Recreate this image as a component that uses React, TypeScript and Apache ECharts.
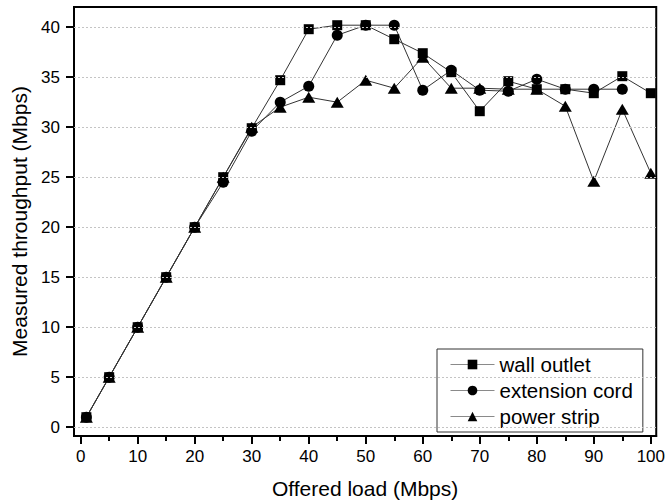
import React, { useEffect, useRef } from "react";
import * as echarts from "echarts";

const offeredLoad = [1, 5, 10, 15, 20, 25, 30, 35, 40, 45, 50, 55, 60, 65, 70, 75, 80, 85, 90, 95, 100];
const wallOutlet = [1, 5, 10, 15, 20, 25.0, 29.9, 34.7, 39.8, 40.2, 40.2, 38.8, 37.4, 35.5, 31.6, 34.6, 33.8, 33.8, 33.4, 35.1, 33.4];
const extensionCord = [1, 5, 10, 15, 20, 24.5, 29.6, 32.5, 34.1, 39.2, 40.2, 40.2, 33.7, 35.7, 33.7, 33.6, 34.8, 33.8, 33.8, 33.8, null];
const powerStrip = [1, 5, 10, 15, 20, 25.0, 30.0, 32.0, 33.0, 32.5, 34.7, 33.9, 37.0, 33.9, 33.9, 33.8, 33.8, 32.1, 24.6, 31.8, 25.4];

const xMajorTicks = [0, 10, 20, 30, 40, 50, 60, 70, 80, 90, 100];
const xMinorTicks = [5, 15, 25, 35, 45, 55, 65, 75, 85, 95];
const yTicks = [0, 5, 10, 15, 20, 25, 30, 35, 40];

const FONT = "'Liberation Sans', Arial, Helvetica, sans-serif";

function pairs(ys: (number | null)[]) {
  const out: [number, number][] = [];
  ys.forEach((y, i) => {
    if (y !== null) out.push([offeredLoad[i], y]);
  });
  return out;
}

export default function App() {
  const ref = useRef<HTMLDivElement>(null);
  useEffect(() => {
    document.body.style.margin = "0";
    const chart = echarts.init(ref.current!, null, { renderer: "svg" });
    const X_MIN = -1.17;
    const X_MAX = 100.95;
    const Y_MIN = -0.88;
    const Y_MAX = 42.02;
    const lineCommon = {
      type: "line",
      lineStyle: { color: "#333", width: 1 },
      itemStyle: { color: "#000", borderWidth: 0 },
      z: 3,
    };
    chart.setOption({
      animation: false,
      backgroundColor: "#fff",
      textStyle: { fontFamily: FONT },
      grid: {
        left: 74,
        top: 7,
        right: 8.5,
        bottom: 68,
        show: true,
        borderColor: "#000",
        borderWidth: 2,
        backgroundColor: "transparent",
      },
      legend: {
        orient: "vertical",
        left: 437,
        top: 349,
        padding: [5, 10, 5, 13],
        itemGap: 5,
        itemWidth: 44,
        itemHeight: 12,
        borderColor: "#333",
        borderWidth: 1,
        backgroundColor: "#fff",
        textStyle: { fontSize: 20.5, color: "#000", fontFamily: FONT },
        lineStyle: { color: "#8a8a8a", width: 1 },
        data: ["wall outlet", "extension cord", "power strip"],
      },
      xAxis: [
        {
          type: "value",
          min: X_MIN,
          max: X_MAX,
          name: "Offered load (Mbps)",
          nameLocation: "middle",
          nameGap: 42,
          nameTextStyle: { fontSize: 21, color: "#000", fontFamily: FONT },
          axisLine: { show: true, onZero: false, lineStyle: { color: "#000", width: 2 } },
          axisTick: { show: true, inside: false, length: 8, customValues: xMajorTicks, lineStyle: { color: "#000", width: 2 } },
          axisLabel: { customValues: xMajorTicks, fontSize: 17, color: "#000", margin: 12, fontFamily: FONT },
          splitLine: { show: false },
        },
        {
          type: "value",
          min: X_MIN,
          max: X_MAX,
          position: "bottom",
          axisLine: { show: false, onZero: false },
          axisTick: { show: true, inside: false, length: 5, customValues: xMinorTicks, lineStyle: { color: "#000", width: 2 } },
          axisLabel: { show: false },
          splitLine: { show: false },
        },
      ],
      yAxis: {
        type: "value",
        min: Y_MIN,
        max: Y_MAX,
        name: "Measured throughput (Mbps)",
        nameLocation: "middle",
        nameGap: 41,
        nameTextStyle: { fontSize: 21, color: "#000", fontFamily: FONT },
        axisLine: { show: true, onZero: false, lineStyle: { color: "#000", width: 2 } },
        axisTick: { show: true, inside: false, length: 8, customValues: yTicks, lineStyle: { color: "#000", width: 2 } },
        axisLabel: { customValues: yTicks, fontSize: 17, color: "#000", margin: 14, fontFamily: FONT },
        splitLine: { show: false },
      },
      series: [
        {
          type: "line",
          name: "__grid",
          data: [],
          silent: true,
          z: 1,
          markLine: {
            silent: true,
            symbol: ["none", "none"],
            label: { show: false },
            lineStyle: { color: "#c4c4c4", width: 1, type: [2, 2] },
            data: yTicks.map((v) => ({ yAxis: v })),
          },
        },
        {
          ...lineCommon,
          name: "wall outlet",
          symbol: "rect",
          symbolSize: 10,
          data: pairs(wallOutlet),
        },
        {
          ...lineCommon,
          name: "extension cord",
          symbol: "circle",
          symbolSize: 11,
          data: pairs(extensionCord),
        },
        {
          ...lineCommon,
          name: "power strip",
          symbol: "triangle",
          symbolSize: [13, 11],
          data: pairs(powerStrip),
        },
      ],
    });
    return () => chart.dispose();
  }, []);
  return <div ref={ref} style={{ width: 668, height: 504 }} />;
}
